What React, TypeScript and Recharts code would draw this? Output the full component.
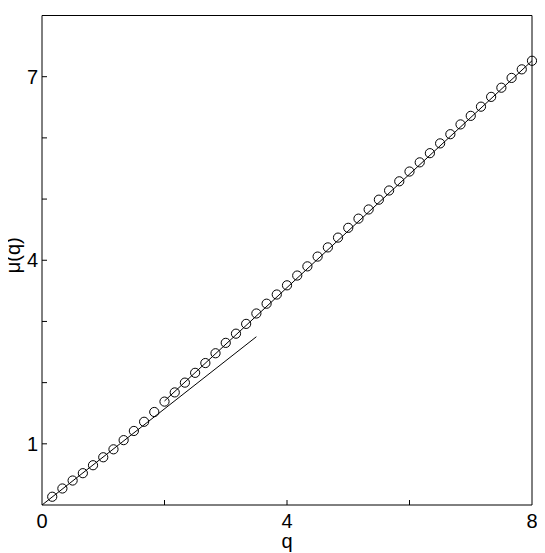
import React from "react";
import { ComposedChart, Line, Scatter, XAxis, YAxis } from "recharts";

// measured points, q = k/6
const qValues = [
  0.167, 0.333, 0.5, 0.667, 0.833, 1.0, 1.167, 1.333, 1.5, 1.667, 1.833, 2.0,
  2.167, 2.333, 2.5, 2.667, 2.833, 3.0, 3.167, 3.333, 3.5, 3.667, 3.833, 4.0,
  4.167, 4.333, 4.5, 4.667, 4.833, 5.0, 5.167, 5.333, 5.5, 5.667, 5.833, 6.0,
  6.167, 6.333, 6.5, 6.667, 6.833, 7.0, 7.167, 7.333, 7.5, 7.667, 7.833, 8.0,
];
const muValues = [
  0.135, 0.27, 0.4, 0.52, 0.65, 0.78, 0.91, 1.06, 1.21, 1.36, 1.52, 1.69,
  1.84, 2.0, 2.16, 2.32, 2.48, 2.65, 2.8, 2.96, 3.13, 3.29, 3.44, 3.59,
  3.75, 3.9, 4.06, 4.21, 4.37, 4.53, 4.68, 4.83, 4.99, 5.14, 5.29, 5.45,
  5.6, 5.75, 5.91, 6.06, 6.22, 6.36, 6.51, 6.67, 6.82, 6.98, 7.12, 7.26,
];

// low-q line and large-q line
const lowQ = [0, 3.5];
const lowMu = [0, 2.75];
const highQ = [2, 8];
const highMu = [1.7, 7.26];

const xTicks = [0, 2, 4, 6, 8];
const xLabels = [0, 4, 8];
const yTicks = [0, 1, 2, 3, 4, 5, 6, 7, 8];
const yLabels = [1, 4, 7];

const points = qValues.map((q, i) => ({ q, mu: muValues[i] }));
const lowLine = lowQ.map((q, i) => ({ q, mu: lowMu[i] }));
const highLine = highQ.map((q, i) => ({ q, mu: highMu[i] }));

const FONT = "'Liberation Sans', Arial, Helvetica, sans-serif";
const FS = 20;
const TICK = 5;

const BottomTick = (props: any) => {
  const { x, y, payload } = props;
  const v = payload.value;
  return (
    <g>
      {v > 0 && v < 8 && <line x1={x} y1={y} x2={x} y2={y - TICK} stroke="#000" />}
      {xLabels.includes(v) && (
        <text x={x} y={y + 23} textAnchor="middle" fontSize={FS} fontFamily={FONT} fill="#000">
          {v}
        </text>
      )}
    </g>
  );
};

const TopTick = (props: any) => {
  const { x, y, payload } = props;
  const v = payload.value;
  if (v <= 0 || v >= 8) return <g />;
  return <line x1={x} y1={y} x2={x} y2={y + TICK} stroke="#000" />;
};

const LeftTick = (props: any) => {
  const { x, y, payload } = props;
  const v = payload.value;
  return (
    <g>
      {v > 0 && v < 8 && <line x1={x} y1={y} x2={x + TICK} y2={y} stroke="#000" />}
      {yLabels.includes(v) && (
        <text x={x - 4} y={y + 7} textAnchor="end" fontSize={FS} fontFamily={FONT} fill="#000">
          {v}
        </text>
      )}
    </g>
  );
};

const RightTick = (props: any) => {
  const { x, y, payload } = props;
  const v = payload.value;
  if (v <= 0 || v >= 8) return <g />;
  return <line x1={x} y1={y} x2={x - TICK} y2={y} stroke="#000" />;
};

const XTitle = (props: any) => {
  const { x, y, width, height } = props.viewBox;
  return (
    <text x={x + width / 2} y={y + height - 5} textAnchor="middle" fontSize={FS} fontFamily={FONT} fill="#000">
      q
    </text>
  );
};

const YTitle = (props: any) => {
  const { y, height } = props.viewBox;
  const cx = 20;
  const cy = y + height / 2 - 5;
  return (
    <text x={cx} y={cy} transform={`rotate(-90, ${cx}, ${cy})`} textAnchor="middle" fontSize={FS} fontFamily={FONT} fill="#000">
      μ(q)
    </text>
  );
};

const Ring = (props: any) => (
  <circle cx={props.cx} cy={props.cy} r={4.6} fill="none" stroke="#000" strokeWidth={1} />
);

export default function App() {
  return (
    <div style={{ width: 545, height: 553, margin: "-8px 0 0 -8px", background: "#fff" }}>
      <ComposedChart
        width={545}
        height={553}
        margin={{ top: 14.5, right: 12, bottom: 0, left: 0 }}
      >
        <XAxis
          dataKey="q"
          type="number"
          domain={[0, 8]}
          ticks={xTicks}
          interval={0}
          tickSize={0}
          tickMargin={0}
          tick={<BottomTick />}
          axisLine={{ stroke: "#000" }}
          height={48}
          label={{ content: <XTitle /> }}
        />
        <XAxis
          xAxisId="top"
          orientation="top"
          dataKey="q"
          type="number"
          domain={[0, 8]}
          ticks={xTicks}
          interval={0}
          tickSize={0}
          tickMargin={0}
          tick={<TopTick />}
          axisLine={{ stroke: "#000" }}
          height={1}
        />
        <YAxis
          type="number"
          domain={[0, 8]}
          ticks={yTicks}
          interval={0}
          tickSize={0}
          tickMargin={0}
          tick={<LeftTick />}
          axisLine={{ stroke: "#000" }}
          width={42}
          label={{ content: <YTitle /> }}
        />
        <YAxis
          yAxisId="right"
          orientation="right"
          type="number"
          domain={[0, 8]}
          ticks={yTicks}
          interval={0}
          tickSize={0}
          tickMargin={0}
          tick={<RightTick />}
          axisLine={{ stroke: "#000" }}
          width={1}
        />
        <Line data={lowLine} dataKey="mu" type="linear" stroke="#000" strokeWidth={1} dot={false} isAnimationActive={false} />
        <Line data={highLine} dataKey="mu" type="linear" stroke="#000" strokeWidth={1} dot={false} isAnimationActive={false} />
        <Scatter data={points} dataKey="mu" shape={<Ring />} isAnimationActive={false} />
      </ComposedChart>
    </div>
  );
}
